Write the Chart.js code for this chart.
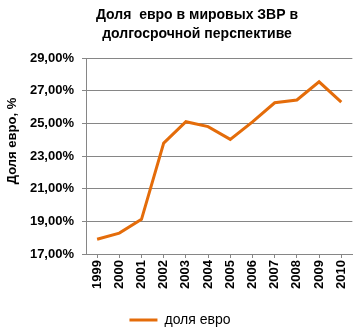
<!DOCTYPE html>
<html>
<head>
<meta charset="utf-8">
<script src="https://cdn.jsdelivr.net/npm/chart.js@4/dist/chart.umd.min.js"></script>
<style>
  html, body { margin: 0; padding: 0; background: #ffffff; }
  #wrap { position: relative; width: 359px; height: 331px; }
</style>
</head>
<body>
<div id="wrap"><canvas id="c" width="359" height="331"></canvas></div>
<script>
// Years on the category axis
const years = ['1999', '2000', '2001', '2002', '2003', '2004', '2005', '2006', '2007', '2008', '2009', '2010'];
// Euro share of world currency reserves, %
const euroShare = [17.9, 18.28, 19.12, 23.79, 25.1, 24.8, 24.02, 25.09, 26.26, 26.43, 27.54, 26.3];
// Chart texts
const titleLines = ['Доля  евро в мировых ЗВР в', 'долгосрочной перспективе'];
const yAxisTitle = 'Доля евро, %';
const seriesName = 'доля евро';

const FONT = '"Liberation Sans", Arial, sans-serif';
const ORANGE = '#E46C0A';
const GRID = '#868686';

// Two-line heading and the rotated value-axis caption
const headingPlugin = {
  id: 'heading',
  afterDraw(chart) {
    const ctx = chart.ctx;
    ctx.save();
    ctx.font = 'bold 14px ' + FONT;
    ctx.fillStyle = '#000000';
    ctx.textAlign = 'center';
    ctx.textBaseline = 'middle';
    ctx.fillText(titleLines[0], 197, 15);
    ctx.fillText(titleLines[1], 197, 34);
    ctx.restore();

    ctx.save();
    ctx.font = 'bold 13px ' + FONT;
    ctx.fillStyle = '#000000';
    ctx.textAlign = 'center';
    ctx.textBaseline = 'middle';
    ctx.translate(12, 141);
    ctx.rotate(-Math.PI / 2);
    ctx.fillText(yAxisTitle, 0, 0);
    ctx.restore();
  }
};

new Chart(document.getElementById('c'), {
  type: 'line',
  data: {
    labels: years,
    datasets: [{
      label: seriesName,
      data: euroShare,
      borderColor: ORANGE,
      backgroundColor: ORANGE,
      borderWidth: 3,
      pointRadius: 0,
      tension: 0,
      fill: false
    }]
  },
  options: {
    responsive: false,
    animation: false,
    devicePixelRatio: 1,
    layout: { padding: { left: 4, right: 3, top: 58, bottom: -6 } },
    plugins: {
      title: { display: false },
      tooltip: { enabled: false },
      legend: {
        position: 'bottom',
        labels: {
          usePointStyle: true,
          pointStyle: 'line',
          pointStyleWidth: 28,
          boxHeight: 3,
          color: '#000000',
          font: { family: FONT, size: 14 },
          padding: 4
        }
      }
    },
    scales: {
      x: {
        offset: true,
        grid: {
          offset: false,
          drawOnChartArea: false,
          drawTicks: true,
          tickLength: 4,
          color: GRID
        },
        border: { color: GRID, width: 1 },
        ticks: {
          autoSkip: false,
          maxRotation: 90,
          minRotation: 90,
          padding: 2,
          color: '#000000',
          font: { family: FONT, size: 13, weight: 'bold' }
        },
        afterFit(scale) { scale.height = 55; }
      },
      y: {
        min: 17,
        max: 29,
        ticks: {
          stepSize: 2,
          padding: 8,
          color: '#000000',
          font: { family: FONT, size: 13, weight: 'bold' },
          callback: (v) => v.toFixed(2).replace('.', ',') + '%'
        },
        grid: {
          color: GRID,
          lineWidth: 1,
          drawTicks: true,
          tickLength: 4
        },
        border: { color: GRID, width: 1 },
        title: { display: false },
        afterFit(scale) { scale.width = 82; }
      }
    }
  },
  plugins: [headingPlugin]
});
</script>
</body>
</html>
